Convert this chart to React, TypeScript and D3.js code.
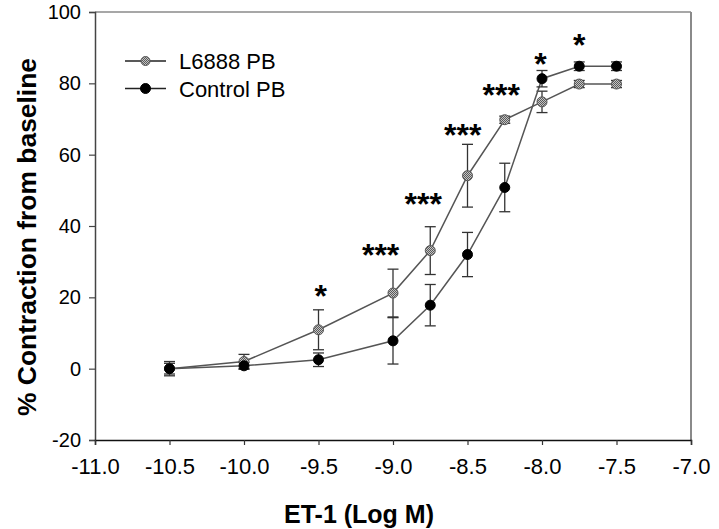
import React, { useEffect, useRef } from 'react';
import * as d3 from 'd3';

// ET-1 concentrations (log M)
const doses = [-10.5, -10.0, -9.5, -9.0, -8.75, -8.5, -8.25, -8.0, -7.75, -7.5];

const l6888Mean = [0, 2.0, 10.9, 21.2, 33.1, 54.1, 69.8, 74.8, 79.8, 79.8];
const l6888Err = [2, 2, 5.6, 6.7, 6.7, 8.8, 1, 3, 1, 1];

const controlMean = [0, 0.8, 2.5, 7.8, 17.8, 32.0, 50.8, 81.3, 84.8, 84.8];
const controlErr = [1.5, 1, 1.9, 6.5, 5.8, 6.2, 6.8, 2.3, 1.2, 1.2];

// significance marks
const starX = [-9.485, -9.083, -8.797, -8.532, -8.274, -8.01, -7.75];
const starY = [22.2, 33.8, 48.1, 67.5, 78.8, 87.3, 92.8];
const starLabels = ['*', '***', '***', '***', '***', '*', '*'];

const xTicks = [-11, -10.5, -10, -9.5, -9, -8.5, -8, -7.5, -7];
const yTicks = [-20, 0, 20, 40, 60, 80, 100];

const seriesNames = ['L6888 PB', 'Control PB'];

const W = 719, H = 529;
const FONT = 'Arial, "Liberation Sans", sans-serif';

const App = () => {
  const svgRef = useRef(null);

  useEffect(() => {
    const svg = d3.select(svgRef.current);
    svg.selectAll('*').remove();

    const left = 95, right = 691, top = 12, bottom = 440;
    const x = d3.scaleLinear().domain([-11, -7]).range([left, right]);
    const y = d3.scaleLinear().domain([-20, 100]).range([bottom, top]);

    // hatched fill for L6888 markers
    const defs = svg.append('defs');
    const pat = defs.append('pattern')
      .attr('id', 'hatch')
      .attr('width', 2).attr('height', 2)
      .attr('patternUnits', 'userSpaceOnUse');
    pat.append('rect').attr('width', 2).attr('height', 2).attr('fill', '#c4c4c4');
    pat.append('rect').attr('width', 1).attr('height', 1).attr('fill', '#5a5a5a');
    pat.append('rect').attr('x', 1).attr('y', 1).attr('width', 1).attr('height', 1).attr('fill', '#5a5a5a');

    // frame (top/right lighter)
    svg.append('line').attr('x1', left).attr('x2', right).attr('y1', top).attr('y2', top)
      .attr('stroke', '#8a8a8a').attr('stroke-width', 1.5);
    svg.append('line').attr('x1', right).attr('x2', right).attr('y1', top).attr('y2', bottom)
      .attr('stroke', '#8a8a8a').attr('stroke-width', 2);

    // y axis
    const yAxis = svg.append('g').attr('transform', `translate(${left},0)`)
      .call(d3.axisLeft(y).tickValues(yTicks).tickSize(6).tickPadding(8).tickFormat((d: any) => String(d)));
    yAxis.select('.domain').attr('stroke', '#444').attr('stroke-width', 1.5);
    yAxis.selectAll('.tick line').attr('stroke', '#444').attr('stroke-width', 1.2);
    yAxis.selectAll('.tick text').attr('font-family', FONT).attr('font-size', 20).attr('fill', '#000');

    // x axis
    const xAxis = svg.append('g').attr('transform', `translate(0,${bottom})`)
      .call(d3.axisBottom(x).tickValues(xTicks).tickSize(5).tickPadding(13).tickFormat((d: any) => d.toFixed(1)));
    xAxis.select('.domain').attr('stroke', '#111').attr('stroke-width', 1.5);
    xAxis.selectAll('.tick line').attr('stroke', '#333').attr('stroke-width', 1.2);
    xAxis.selectAll('.tick text').attr('font-family', FONT).attr('font-size', 22).attr('fill', '#000');

    // axis titles
    svg.append('text')
      .attr('x', 359).attr('y', 523)
      .attr('text-anchor', 'middle')
      .attr('font-family', FONT).attr('font-size', 25).attr('font-weight', 'bold')
      .text('ET-1 (Log M)');
    svg.append('text')
      .attr('transform', 'translate(36,237) rotate(-90)')
      .attr('text-anchor', 'middle')
      .attr('font-family', FONT).attr('font-size', 25).attr('font-weight', 'bold')
      .attr('textLength', 358).attr('lengthAdjust', 'spacingAndGlyphs')
      .text('% Contraction from baseline');

    const series = [
      { mean: l6888Mean, err: l6888Err, fill: 'url(#hatch)', stroke: '#555', r: 5 },
      { mean: controlMean, err: controlErr, fill: '#000', stroke: '#000', r: 5 },
    ];

    const line = d3.line<number>().x((_, i) => x(doses[i])).y(d => y(d));

    series.forEach(s => {
      svg.append('path')
        .attr('d', line(s.mean))
        .attr('fill', 'none')
        .attr('stroke', '#555')
        .attr('stroke-width', 1.5);

      const eb = svg.append('g');
      s.mean.forEach((m, i) => {
        const cx = x(doses[i]);
        const y0 = y(m + s.err[i]), y1 = y(m - s.err[i]);
        eb.append('line').attr('x1', cx).attr('x2', cx).attr('y1', y0).attr('y2', y1)
          .attr('stroke', '#333').attr('stroke-width', 1.3);
        [y0, y1].forEach(yy => {
          eb.append('line').attr('x1', cx - 5.5).attr('x2', cx + 5.5).attr('y1', yy).attr('y2', yy)
            .attr('stroke', '#333').attr('stroke-width', 1.3);
        });
      });
    });

    series.forEach(s => {
      svg.append('g').selectAll('circle')
        .data(s.mean)
        .enter().append('circle')
        .attr('cx', (_, i) => x(doses[i]))
        .attr('cy', d => y(d))
        .attr('r', s.r)
        .attr('fill', s.fill)
        .attr('stroke', s.stroke)
        .attr('stroke-width', 1);
    });

    // significance stars
    svg.append('g').selectAll('text')
      .data(starLabels)
      .enter().append('text')
      .attr('x', (_, i) => x(starX[i]))
      .attr('y', (_, i) => y(starY[i]) + 18)
      .attr('text-anchor', 'middle')
      .attr('font-family', FONT).attr('font-size', 32).attr('font-weight', 'bold')
      .attr('letter-spacing', 0)
      .text(d => d);

    // legend
    const lg = svg.append('g');
    seriesNames.forEach((name, i) => {
      const ly = 61 + i * 27.5;
      lg.append('line').attr('x1', 125).attr('x2', 166).attr('y1', ly).attr('y2', ly)
        .attr('stroke', '#222').attr('stroke-width', 1.5);
      lg.append('circle').attr('cx', 145.5).attr('cy', ly).attr('r', i === 0 ? 4.5 : 5)
        .attr('fill', series[i].fill).attr('stroke', series[i].stroke).attr('stroke-width', 1);
      lg.append('text').attr('x', 179).attr('y', ly + 8)
        .attr('font-family', FONT).attr('font-size', 22).attr('fill', '#000')
        .text(name);
    });
  }, []);

  return (
    <svg
      ref={svgRef}
      width={W}
      height={H}
      style={{ position: 'absolute', left: 0, top: 0, background: '#fff' }}
    />
  );
};

export default App;
